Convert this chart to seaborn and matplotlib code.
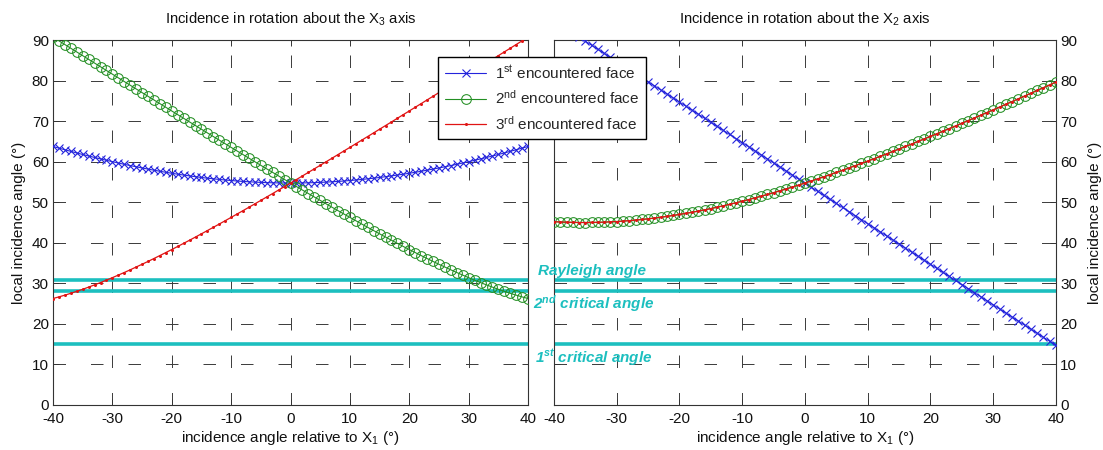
import numpy as np
import matplotlib
matplotlib.use("Agg")
import matplotlib.pyplot as plt
import seaborn as sns

# incidence angle relative to X1 (degrees), one sample per degree
angles = np.arange(-40, 41)

# local incidence angle on each face, rotation about the X3 axis
x3_first = [63.75, 63.34, 62.94, 62.54, 62.15, 61.77, 61.40, 61.04, 60.68, 60.34,
            60.00, 59.67, 59.35, 59.04, 58.74, 58.45, 58.17, 57.90, 57.63, 57.38,
            57.14, 56.91, 56.70, 56.49, 56.29, 56.10, 55.93, 55.77, 55.62, 55.48,
            55.35, 55.23, 55.13, 55.04, 54.96, 54.89, 54.83, 54.79, 54.76, 54.74,
            54.74,
            54.74, 54.76, 54.79, 54.83, 54.89, 54.96, 55.04, 55.13, 55.23, 55.35,
            55.48, 55.62, 55.77, 55.93, 56.10, 56.29, 56.49, 56.70, 56.91, 57.14,
            57.38, 57.63, 57.90, 58.17, 58.45, 58.74, 59.04, 59.35, 59.67, 60.00,
            60.34, 60.68, 61.04, 61.40, 61.77, 62.15, 62.54, 62.94, 63.34, 63.75]
x3_second = [90.70, 89.79, 88.88, 87.96, 87.05, 86.14, 85.23, 84.31, 83.40, 82.49,
             81.58, 80.67, 79.76, 78.85, 77.94, 77.03, 76.12, 75.22, 74.31, 73.41,
             72.50, 71.60, 70.70, 69.79, 68.90, 68.00, 67.10, 66.20, 65.31, 64.42,
             63.52, 62.64, 61.75, 60.86, 59.98, 59.10, 58.22, 57.35, 56.47, 55.60,
             54.74,
             53.87, 53.01, 52.15, 51.30, 50.45, 49.60, 48.76, 47.92, 47.09, 46.26,
             45.44, 44.62, 43.81, 43.01, 42.21, 41.42, 40.63, 39.86, 39.09, 38.33,
             37.59, 36.85, 36.12, 35.40, 34.70, 34.02, 33.33, 32.67, 32.03, 31.40,
             30.78, 30.19, 29.62, 29.07, 28.53, 28.03, 27.54, 27.09, 26.66, 26.26]
x3_third = [26.26, 26.66, 27.09, 27.54, 28.03, 28.53, 29.07, 29.62, 30.19, 30.78,
            31.40, 32.03, 32.67, 33.33, 34.02, 34.70, 35.40, 36.12, 36.85, 37.59,
            38.33, 39.09, 39.86, 40.63, 41.42, 42.21, 43.01, 43.81, 44.62, 45.44,
            46.26, 47.09, 47.92, 48.76, 49.60, 50.45, 51.30, 52.15, 53.01, 53.87,
            54.74,
            55.60, 56.47, 57.35, 58.22, 59.10, 59.98, 60.86, 61.75, 62.64, 63.52,
            64.42, 65.31, 66.20, 67.10, 68.00, 68.90, 69.79, 70.70, 71.60, 72.50,
            73.41, 74.31, 75.22, 76.12, 77.03, 77.94, 78.85, 79.76, 80.67, 81.58,
            82.49, 83.40, 84.31, 85.23, 86.14, 87.05, 87.96, 88.88, 89.79, 90.70]

# local incidence angle on each face, rotation about the X2 axis
x2_first = [94.7, 93.7, 92.7, 91.7, 90.7, 89.7, 88.7, 87.7, 86.7, 85.7,
            84.7, 83.7, 82.7, 81.7, 80.7, 79.7, 78.7, 77.7, 76.7, 75.7,
            74.7, 73.7, 72.7, 71.7, 70.7, 69.7, 68.7, 67.7, 66.7, 65.7,
            64.7, 63.7, 62.7, 61.7, 60.7, 59.7, 58.7, 57.7, 56.7, 55.7,
            54.7,
            53.7, 52.7, 51.7, 50.7, 49.7, 48.7, 47.7, 46.7, 45.7, 44.7,
            43.7, 42.7, 41.7, 40.7, 39.7, 38.7, 37.7, 36.7, 35.7, 34.7,
            33.7, 32.7, 31.7, 30.7, 29.7, 28.7, 27.7, 26.7, 25.7, 24.7,
            23.7, 22.7, 21.7, 20.7, 19.7, 18.7, 17.7, 16.7, 15.7, 14.7]
x2_second = [45.19, 45.12, 45.07, 45.03, 45.00, 45.00, 45.01, 45.04, 45.09, 45.16,
             45.24, 45.34, 45.46, 45.59, 45.74, 45.91, 46.09, 46.29, 46.51, 46.74,
             46.99, 47.25, 47.52, 47.82, 48.12, 48.44, 48.78, 49.13, 49.49, 49.86,
             50.25, 50.65, 51.06, 51.48, 51.91, 52.36, 52.81, 53.28, 53.75, 54.24,
             54.74,
             55.24, 55.75, 56.27, 56.81, 57.34, 57.89, 58.45, 59.01, 59.58, 60.15,
             60.73, 61.32, 61.92, 62.52, 63.13, 63.74, 64.36, 64.98, 65.61, 66.24,
             66.88, 67.52, 68.17, 68.81, 69.47, 70.13, 70.79, 71.45, 72.12, 72.79,
             73.46, 74.14, 74.82, 75.50, 76.19, 76.87, 77.56, 78.25, 78.94, 79.64]
# the 2nd and 3rd faces see the same angle in this rotation
x2_third = list(x2_second)

# reference angles (degrees)
first_critical = 15.0
second_critical = 28.0
rayleigh = 30.7

face_labels = [r"1$^{\mathrm{st}}$ encountered face",
               r"2$^{\mathrm{nd}}$ encountered face",
               r"3$^{\mathrm{rd}}$ encountered face"]
titles = [r"Incidence in rotation about the X$_{\mathrm{3}}$ axis",
          r"Incidence in rotation about the X$_{\mathrm{2}}$ axis"]
xlabel = r"incidence angle relative to X$_{\mathrm{1}}$ (°)"
ylabel = "local incidence angle (°)"

BLUE = "#2424dc"
GREEN = "#238f23"
RED = "#e01414"
CYAN = "#1cbfbf"
INK = "#111111"

sns.set_style("white")
plt.rcParams["font.family"] = ["Liberation Sans", "DejaVu Sans"]
plt.rcParams["mathtext.fontset"] = "custom"
plt.rcParams["mathtext.rm"] = "Liberation Sans"
plt.rcParams["mathtext.it"] = "Liberation Sans:italic"
plt.rcParams["mathtext.bf"] = "Liberation Sans:italic:bold"
plt.rcParams["lines.scale_dashes"] = False
plt.rcParams["axes.unicode_minus"] = False

fig = plt.figure(figsize=(11.03, 4.5), dpi=100)
W, H = 1103.0, 450.0
ax1 = fig.add_axes([53 / W, 45 / H, 475 / W, 365 / H])
ax2 = fig.add_axes([554 / W, 45 / H, 502 / W, 365 / H])

blue_kw = dict(color=BLUE, marker="x", markersize=5.2, markeredgewidth=0.8,
               markeredgecolor=BLUE, linewidth=0.8)
green_kw = dict(color=GREEN, marker="o", markersize=7, markeredgewidth=0.75,
                markerfacecolor="none", markeredgecolor=GREEN, linewidth=0.8)
red_kw = dict(color=RED, marker="o", markersize=2.2, markeredgewidth=0,
              markerfacecolor=RED, markeredgecolor=RED, linewidth=0.9)

panels = [(ax1, x3_first, x3_second, x3_third),
          (ax2, x2_first, x2_second, x2_third)]

for ax, first, second, third in panels:
    for yval in (first_critical, second_critical, rayleigh):
        ax.axhline(yval, color=CYAN, linewidth=2.6, zorder=1.5)
    sns.lineplot(x=angles, y=first, ax=ax, legend=False, zorder=3, **blue_kw)
    sns.lineplot(x=angles, y=second, ax=ax, legend=False, zorder=3, **green_kw)
    sns.lineplot(x=angles, y=third, ax=ax, legend=False, zorder=4, **red_kw)

    ax.set_xlim(-40, 40)
    ax.set_ylim(0, 90)
    ax.set_xticks(np.arange(-40, 41, 10))
    ax.set_yticks(np.arange(0, 91, 10))
    ax.grid(True, color="#3a3a3a", linestyle=(0, (9, 18)), linewidth=0.7)
    for sp in ax.spines.values():
        sp.set_visible(True)
        sp.set_color("#333333")
        sp.set_linewidth(0.8)
    ax.tick_params(direction="in", length=4, width=0.7, color="#333333",
                   top=True, bottom=True, left=True, right=True,
                   labelsize=11, pad=3, labelcolor=INK)
    ax.tick_params(axis="x", pad=5)
    ax.set_xlabel(xlabel, fontsize=11, labelpad=2, color=INK)

ax1.set_title(titles[0], fontsize=10.7, pad=12, color=INK)
ax2.set_title(titles[1], fontsize=10.7, pad=12, color=INK)
ax1.set_ylabel(ylabel, fontsize=11, labelpad=4, color=INK)
ax2.tick_params(labelleft=False, labelright=True)
ax2.yaxis.set_label_position("right")
ax2.set_ylabel(ylabel, fontsize=11, labelpad=8, color=INK)

face_lines = [l for l in ax1.get_lines() if l.get_marker() in ("x", "o")][:3]
fig.legend(face_lines, face_labels, loc="upper left",
           bbox_to_anchor=(438 / W, 1 - 57 / H), borderaxespad=0,
           frameon=True, fancybox=False, edgecolor="black", framealpha=1,
           fontsize=11, handlelength=2.7, labelspacing=0.5,
           borderpad=0.45, handletextpad=0.6)

text_kw = dict(color=CYAN, fontsize=11, fontweight="bold", style="italic",
               va="baseline", ha="left", zorder=10)
fig.text(538 / W, 1 - 275 / H, "Rayleigh angle", **text_kw)
fig.text(533 / W, 1 - 309 / H, r"2$^{\mathbf{nd}}$ critical angle", **text_kw)
fig.text(535 / W, 1 - 362 / H, r"1$^{\mathbf{st}}$ critical angle", **text_kw)

fig.savefig("out.png", dpi=100)
